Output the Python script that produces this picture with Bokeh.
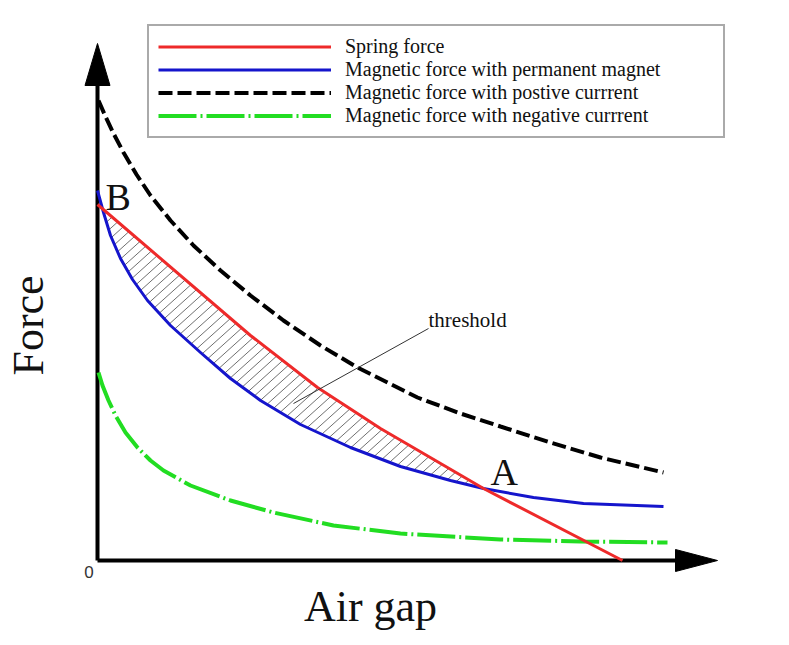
import numpy as np
from bokeh.plotting import figure
from bokeh.models import Range1d, Label, Legend, LegendItem
from bokeh.embed import file_html
from bokeh.resources import INLINE

# ---- data (schematic units: air gap, force) ----
red_x = [0, 153, 220, 283, 386, 525]
red_f = [356, 225, 173, 132, 72, 0]

blue_x = [0, 6, 13, 23, 35, 50, 73, 103, 133, 163, 203, 253, 303, 353, 386, 436, 486, 566]
blue_f = [370, 348, 325, 302, 281, 260, 235, 208, 182, 160, 136, 113, 94, 80, 72, 63, 57, 54]

black_x = [1, 8, 16, 26, 39, 53, 73, 96, 123, 153, 186, 223, 260, 320, 363, 403, 453, 503, 566]
black_f = [460, 444, 427, 408, 386, 365, 340, 315, 290, 265, 240, 215, 193, 163, 147, 134, 118, 103, 88]

green_x = [1, 5, 11, 18, 28, 40, 53, 66, 93, 133, 176, 236, 303, 403, 483, 570]
green_f = [188, 175, 160, 145, 128, 113, 100, 90, 75, 60, 48, 35, 27, 21, 19, 18]

labels = ["Spring force",
          "Magnetic force with permanent magnet",
          "Magnetic force with postive currrent",
          "Magnetic force with negative currrent"]

point_A_x = 386   # intersection of spring force and permanent-magnet force

# axis extents
x_axis_end = 620
y_axis_end = 517
head_len_x, head_half_x = 42, 11
head_len_y, head_half_y = 42, 12.5

# hatch style
hatch_slope = 0.9
hatch_gap = 11

SERIF = "Liberation Serif"

p = figure(width=788, height=644, x_range=Range1d(-97, 691), y_range=Range1d(-84, 560),
           output_backend="svg", toolbar_location=None, min_border=0)
p.axis.visible = False
p.grid.visible = False
p.outline_line_color = None
p.background_fill_color = "white"

# ---- hatched threshold region between spring force and magnet force ----
xs = np.arange(0, point_A_x + 0.01, 0.2)
r = np.interp(xs, red_x, red_f)
b = np.minimum(np.interp(xs, blue_x, blue_f), r)
hx0, hy0, hx1, hy1 = [], [], [], []
for c in np.arange(-400, point_A_x, hatch_gap):
    yl = hatch_slope * (xs - c)
    inside = (yl > b) & (yl < r)
    if not inside.any():
        continue
    idx = np.where(inside)[0]
    runs = np.split(idx, np.where(np.diff(idx) > 1)[0] + 1)
    for run in runs:
        if len(run) < 2:
            continue
        i0, i1 = run[0], run[-1]
        hx0.append(xs[i0]); hy0.append(yl[i0])
        hx1.append(xs[i1]); hy1.append(yl[i1])
p.segment(x0=hx0, y0=hy0, x1=hx1, y1=hy1, line_color="#707070", line_width=1)

# ---- axes with arrowheads ----
p.segment(x0=[0, 0], y0=[0, 0], x1=[x_axis_end - head_len_x, 0], y1=[0, y_axis_end - head_len_y],
          line_color="black", line_width=4)
p.patches(xs=[[x_axis_end, x_axis_end - head_len_x, x_axis_end - head_len_x],
              [0, -head_half_y, head_half_y]],
          ys=[[0, head_half_x, -head_half_x],
              [y_axis_end, y_axis_end - head_len_y, y_axis_end - head_len_y]],
          fill_color="black", line_color="black")

# ---- curves ----
r_green = p.line(green_x, green_f, line_color="#22dd22", line_width=4, line_dash="38 4 2 4")
r_black = p.line(black_x, black_f, line_color="black", line_width=4, line_dash="14 5")
r_blue = p.line(blue_x, blue_f, line_color="#1515cc", line_width=3, line_join="round")
r_red = p.line(red_x, red_f, line_color="#ee2a2a", line_width=3, line_join="round")

# ---- annotations ----
p.segment(x0=[196], y0=[157], x1=[331], y1=[232], line_color="#333333", line_width=1)
p.add_layout(Label(x=331, y=241, text="threshold", text_font=SERIF, text_font_size="21px",
                   text_color="#111111", text_baseline="alphabetic"))
p.add_layout(Label(x=8, y=364, text="B", text_font=SERIF, text_font_size="38px",
                   text_color="#111111", text_baseline="alphabetic"))
p.add_layout(Label(x=393, y=89, text="A", text_font=SERIF, text_font_size="38px",
                   text_color="#111111", text_baseline="alphabetic"))
p.add_layout(Label(x=-8.5, y=-11, text="0", text_font="Liberation Sans", text_font_size="17px",
                   text_color="#333333", text_align="center", text_baseline="alphabetic"))
p.add_layout(Label(x=273, y=-46, text="Air gap", text_font=SERIF, text_font_size="44px",
                   text_color="#111111", text_align="center", text_baseline="alphabetic"))
p.add_layout(Label(x=-69, y=235, text="Force", text_font=SERIF, text_font_size="44px",
                   text_color="#111111", text_align="center", text_baseline="middle",
                   angle=np.pi / 2))

# ---- legend ----
legend = Legend(items=[LegendItem(label=labels[0], renderers=[r_red]),
                       LegendItem(label=labels[1], renderers=[r_blue]),
                       LegendItem(label=labels[2], renderers=[r_black]),
                       LegendItem(label=labels[3], renderers=[r_green])],
                location=(147, 506), margin=0, padding=9, spacing=0,
                glyph_width=173, glyph_height=23, label_height=23, label_width=369,
                label_standoff=14, label_text_font=SERIF, label_text_font_size="20px",
                label_text_color="#111111",
                border_line_color="#555555", border_line_width=2,
                background_fill_color="white", background_fill_alpha=1)
p.add_layout(legend)

open("out.html", "w").write(file_html(p, INLINE))
